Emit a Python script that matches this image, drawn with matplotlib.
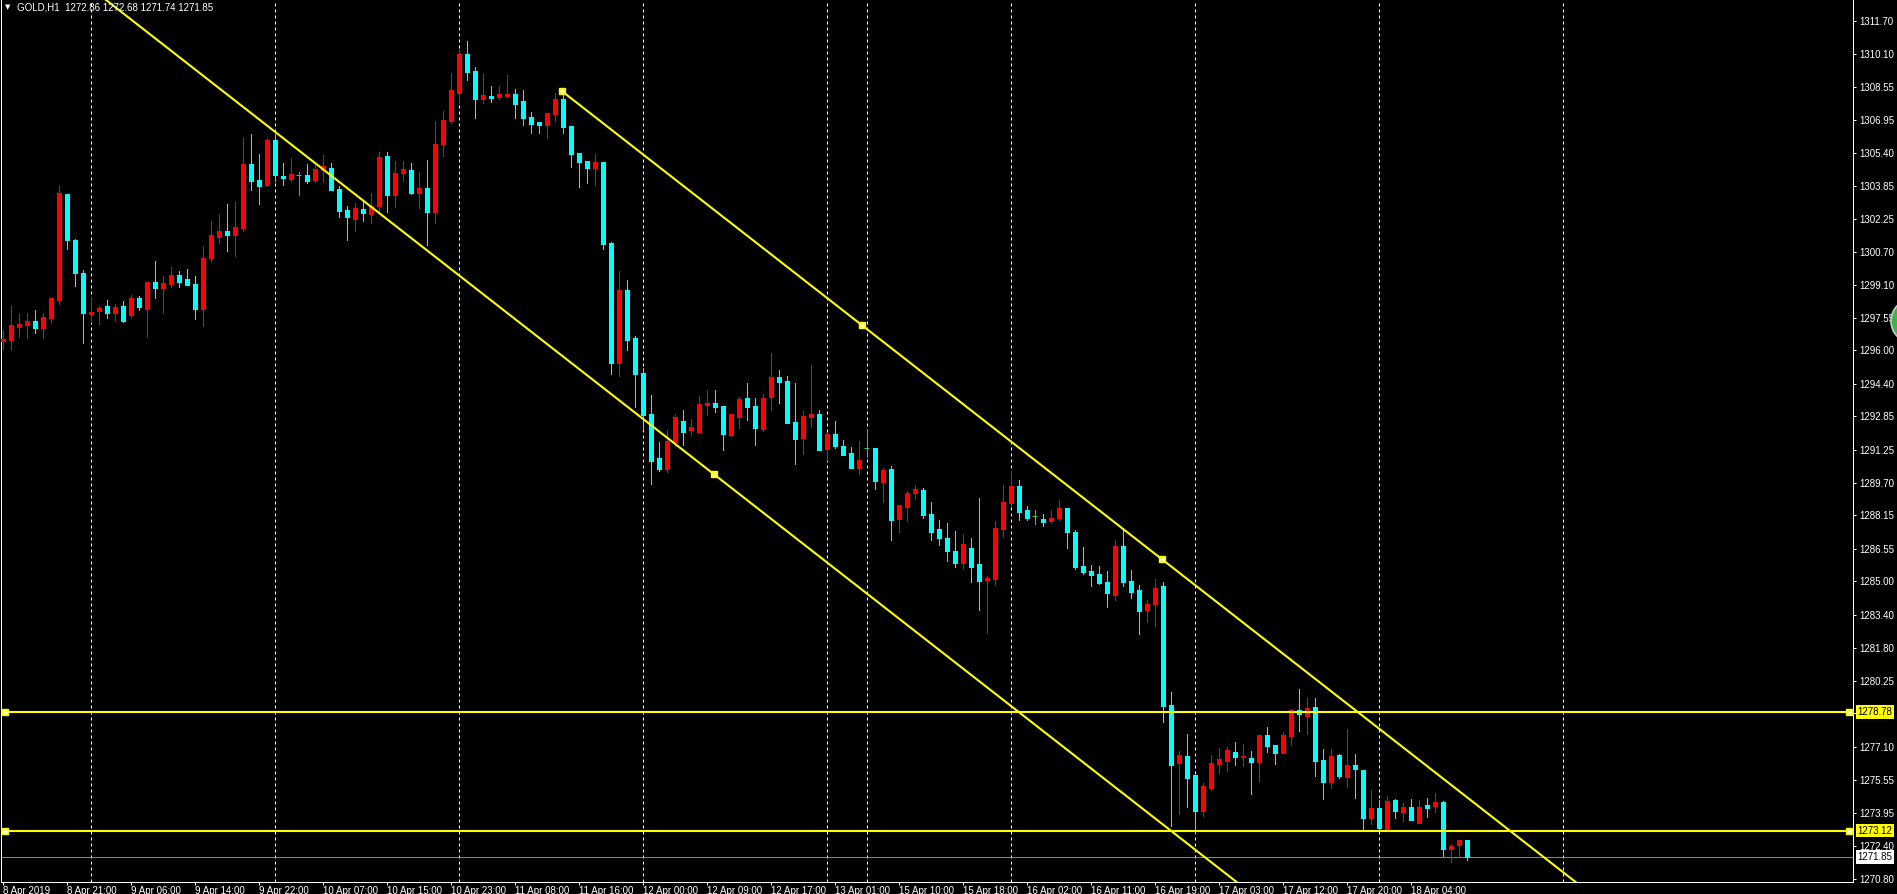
#################################################################

## Libraries

import matplotlib
matplotlib.use("Agg")
import matplotlib.pyplot as plt
from matplotlib.patches import Circle
import numpy as np


#################################################################

## Data (GOLD, H1 candles)

opens = [
    1296.46, 1296.50, 1297.12, 1297.20, 1297.39, 1297.08, 1297.55, 1298.41,
    1303.44, 1301.25, 1299.68, 1297.74, 1297.87, 1298.11, 1297.79, 1298.11,
    1297.68, 1298.49, 1297.98, 1299.25, 1298.98, 1299.17, 1299.58, 1299.39,
    1299.16, 1297.98, 1300.41, 1301.40, 1301.68, 1301.51, 1301.84, 1304.88,
    1304.11, 1303.88, 1306.02, 1304.30, 1304.16, 1304.35, 1304.35, 1304.11,
    1304.59, 1304.69, 1303.69, 1302.68, 1302.26, 1302.73, 1302.49, 1302.88,
    1305.26, 1303.40, 1304.45, 1304.59, 1303.49, 1303.73, 1302.59, 1305.83,
    1306.92, 1308.26, 1310.12, 1309.31, 1307.97, 1308.12, 1308.08, 1308.14,
    1308.20, 1307.87, 1307.11, 1306.87, 1306.73, 1307.25, 1307.97, 1306.68,
    1305.39, 1305.01, 1304.68, 1304.96, 1301.10, 1295.39, 1298.87, 1296.58,
    1294.91, 1292.96, 1290.86, 1290.34, 1291.62, 1292.62, 1292.20, 1292.10,
    1293.39, 1293.48, 1293.34, 1291.96, 1292.81, 1293.73, 1293.35, 1292.25,
    1293.77, 1294.73, 1294.54, 1292.58, 1291.82, 1292.82, 1292.96, 1291.30,
    1292.01, 1291.44, 1291.11, 1290.39, 1291.33, 1291.34, 1289.73, 1290.34,
    1287.96, 1288.53, 1289.20, 1289.34, 1288.20, 1287.49, 1287.06, 1286.44,
    1285.87, 1286.58, 1285.82, 1285.05, 1285.10, 1287.48, 1288.72, 1289.53,
    1288.39, 1288.10, 1287.96, 1287.86, 1288.01, 1288.48, 1287.34, 1285.72,
    1285.48, 1285.34, 1284.96, 1284.34, 1286.67, 1285.01, 1284.58, 1283.62,
    1283.91, 1284.77, 1279.10, 1276.33, 1276.67, 1275.76, 1274.05, 1275.14,
    1276.29, 1276.43, 1276.86, 1276.62, 1276.57, 1276.38, 1277.67, 1277.19,
    1276.81, 1277.62, 1278.86, 1278.58, 1279.00, 1276.48, 1275.43, 1276.72,
    1275.67, 1276.24, 1276.00, 1273.72, 1274.19, 1273.19, 1274.57, 1274.00,
    1274.24, 1273.48, 1274.34, 1274.29, 1274.48, 1272.24, 1272.43, 1272.68,
]

highs = [
    1296.96, 1298.11, 1297.73, 1297.77, 1297.92, 1297.77, 1298.49, 1303.83,
    1303.44, 1301.30, 1299.82, 1298.54, 1298.12, 1298.39, 1298.20, 1298.35,
    1298.62, 1298.58, 1299.25, 1300.25, 1299.54, 1299.97, 1299.77, 1299.87,
    1299.54, 1300.97, 1302.16, 1302.49, 1302.97, 1303.06, 1306.10, 1306.31,
    1305.35, 1306.11, 1306.31, 1304.92, 1305.16, 1304.50, 1304.88, 1304.83,
    1305.31, 1304.92, 1303.83, 1302.88, 1303.02, 1303.11, 1303.49, 1305.45,
    1305.45, 1305.02, 1305.02, 1304.92, 1304.50, 1305.07, 1306.92, 1307.40,
    1309.21, 1310.31, 1310.74, 1309.50, 1309.16, 1308.59, 1308.58, 1309.10,
    1308.44, 1308.39, 1307.35, 1306.87, 1307.30, 1308.25, 1308.20, 1306.68,
    1305.39, 1305.01, 1305.34, 1304.96, 1301.15, 1299.77, 1299.34, 1296.67,
    1295.15, 1293.86, 1291.62, 1292.20, 1292.96, 1293.15, 1292.72, 1293.81,
    1294.10, 1294.10, 1293.34, 1292.96, 1293.77, 1294.44, 1293.73, 1293.92,
    1295.87, 1295.06, 1294.78, 1294.44, 1293.11, 1295.30, 1293.16, 1292.06,
    1292.63, 1291.73, 1291.39, 1291.68, 1292.25, 1291.34, 1290.39, 1290.49,
    1288.63, 1289.30, 1289.58, 1289.44, 1288.77, 1287.91, 1287.77, 1287.39,
    1287.25, 1287.06, 1288.96, 1285.24, 1287.86, 1289.58, 1290.25, 1289.82,
    1288.58, 1288.39, 1288.20, 1288.39, 1288.86, 1288.48, 1287.43, 1286.62,
    1285.77, 1285.72, 1285.48, 1286.96, 1287.53, 1285.53, 1284.82, 1284.10,
    1285.10, 1284.96, 1279.72, 1276.91, 1277.72, 1275.76, 1275.38, 1276.72,
    1277.05, 1277.10, 1277.34, 1277.24, 1276.91, 1277.67, 1278.05, 1277.19,
    1277.81, 1278.91, 1279.86, 1279.43, 1279.43, 1277.00, 1277.00, 1276.76,
    1277.96, 1276.76, 1276.00, 1275.05, 1274.57, 1274.76, 1274.62, 1274.43,
    1274.62, 1274.57, 1274.67, 1274.91, 1274.53, 1272.48, 1272.67, 1272.68,
]

lows = [
    1296.06, 1296.03, 1296.63, 1296.60, 1296.84, 1296.60, 1297.30, 1298.22,
    1300.82, 1299.08, 1296.36, 1297.36, 1297.27, 1297.55, 1297.39, 1297.35,
    1297.55, 1297.92, 1296.63, 1298.50, 1297.77, 1299.01, 1299.03, 1299.12,
    1297.50, 1297.17, 1300.25, 1301.11, 1300.74, 1300.51, 1301.70, 1303.64,
    1302.97, 1303.83, 1304.07, 1303.88, 1304.07, 1303.40, 1303.97, 1304.02,
    1304.02, 1303.64, 1302.35, 1301.26, 1301.68, 1302.16, 1302.07, 1302.59,
    1302.59, 1302.83, 1304.07, 1303.45, 1302.78, 1301.02, 1302.07, 1305.26,
    1306.83, 1307.78, 1308.88, 1307.07, 1307.78, 1307.83, 1307.98, 1308.08,
    1307.06, 1306.73, 1306.35, 1306.35, 1306.11, 1306.92, 1306.35, 1304.73,
    1303.77, 1303.96, 1303.87, 1300.82, 1294.86, 1294.77, 1296.01, 1293.29,
    1292.29, 1289.62, 1290.24, 1290.19, 1291.43, 1291.48, 1291.96, 1292.05,
    1292.91, 1293.05, 1291.24, 1291.91, 1292.29, 1292.68, 1291.49, 1292.15,
    1293.16, 1293.49, 1292.54, 1290.58, 1291.06, 1292.35, 1291.25, 1290.77,
    1291.35, 1291.01, 1290.39, 1290.11, 1290.92, 1289.39, 1288.77, 1286.96,
    1287.34, 1287.87, 1288.92, 1288.01, 1286.96, 1286.72, 1285.96, 1285.68,
    1285.58, 1284.96, 1283.63, 1282.53, 1284.82, 1287.10, 1288.58, 1287.91,
    1287.91, 1287.72, 1287.63, 1287.77, 1287.91, 1286.58, 1285.58, 1285.34,
    1284.77, 1284.86, 1283.77, 1284.10, 1284.77, 1284.20, 1282.48, 1283.05,
    1282.86, 1278.29, 1273.33, 1273.90, 1274.24, 1273.00, 1273.81, 1275.05,
    1275.86, 1275.95, 1276.24, 1276.19, 1274.86, 1275.48, 1276.86, 1276.29,
    1276.81, 1277.19, 1277.86, 1277.72, 1275.72, 1274.62, 1275.15, 1275.62,
    1275.19, 1274.67, 1273.19, 1273.43, 1273.19, 1273.19, 1273.72, 1273.57,
    1273.62, 1273.48, 1273.76, 1274.00, 1271.91, 1271.62, 1271.91, 1271.74,
]

closes = [
    1296.54, 1297.20, 1297.27, 1297.39, 1297.08, 1297.58, 1298.49, 1303.49,
    1301.27, 1299.70, 1297.79, 1297.82, 1298.01, 1297.79, 1298.06, 1297.41,
    1298.49, 1298.08, 1299.25, 1298.98, 1299.20, 1299.58, 1299.27, 1299.12,
    1297.98, 1300.39, 1301.49, 1301.68, 1301.51, 1301.87, 1304.87, 1304.07,
    1303.83, 1306.02, 1304.35, 1304.22, 1304.40, 1304.35, 1304.07, 1304.64,
    1304.78, 1303.64, 1302.64, 1302.35, 1302.78, 1302.54, 1302.88, 1305.21,
    1303.40, 1304.45, 1304.64, 1303.49, 1303.73, 1302.59, 1305.83, 1306.97,
    1308.40, 1310.12, 1309.26, 1307.97, 1308.16, 1308.02, 1308.20, 1308.20,
    1307.73, 1307.06, 1306.77, 1306.73, 1307.30, 1307.97, 1306.63, 1305.34,
    1304.96, 1304.68, 1304.96, 1301.06, 1295.39, 1298.87, 1296.48, 1294.86,
    1292.91, 1290.72, 1290.34, 1291.67, 1292.81, 1292.10, 1292.34, 1293.43,
    1293.48, 1293.29, 1292.00, 1292.96, 1293.67, 1293.30, 1292.30, 1293.73,
    1294.73, 1294.49, 1292.54, 1291.77, 1292.87, 1292.96, 1291.25, 1292.01,
    1291.44, 1291.01, 1290.39, 1290.77, 1291.33, 1289.77, 1290.30, 1287.91,
    1288.63, 1289.20, 1289.39, 1288.15, 1287.34, 1287.06, 1286.44, 1285.87,
    1286.77, 1285.68, 1285.01, 1285.15, 1287.53, 1288.77, 1289.53, 1288.29,
    1288.01, 1288.10, 1287.82, 1288.01, 1288.48, 1287.34, 1285.67, 1285.43,
    1285.29, 1284.91, 1284.43, 1286.67, 1284.96, 1284.48, 1283.58, 1283.91,
    1284.67, 1279.05, 1276.24, 1276.72, 1275.62, 1274.05, 1275.24, 1276.33,
    1276.53, 1276.95, 1276.62, 1276.67, 1276.38, 1277.67, 1277.15, 1276.81,
    1277.67, 1278.86, 1278.67, 1278.96, 1276.43, 1275.43, 1276.67, 1275.72,
    1276.24, 1276.05, 1273.72, 1274.19, 1273.24, 1274.53, 1274.05, 1274.24,
    1273.62, 1274.24, 1274.19, 1274.48, 1272.24, 1272.38, 1272.67, 1271.85,
]

# time labels, one every 8 bars
time_labels = [
    "8 Apr 2019", "8 Apr 21:00", "9 Apr 06:00", "9 Apr 14:00", "9 Apr 22:00",
    "10 Apr 07:00", "10 Apr 15:00", "10 Apr 23:00", "11 Apr 08:00", "11 Apr 16:00",
    "12 Apr 00:00", "12 Apr 09:00", "12 Apr 17:00", "13 Apr 01:00", "15 Apr 10:00",
    "15 Apr 18:00", "16 Apr 02:00", "16 Apr 11:00", "16 Apr 19:00", "17 Apr 03:00",
    "17 Apr 12:00", "17 Apr 20:00", "18 Apr 04:00",
]
label_step = 8

# bars where a new day starts (period separators)
day_starts = [11, 34, 57, 80, 103, 108, 126, 149, 172, 195]

price_ticks = [
    1311.70, 1310.10, 1308.55, 1306.95, 1305.40, 1303.85, 1302.25, 1300.70,
    1299.10, 1297.55, 1296.00, 1294.40, 1292.85, 1291.25, 1289.70, 1288.15,
    1286.55, 1285.00, 1283.40, 1281.80, 1280.25, 1278.70, 1277.10, 1275.55,
    1273.95, 1272.40, 1270.80,
]

# horizontal levels and the bid line
levels = [1278.78, 1273.12]
bid_price = 1271.85

# upper channel line (two anchor points) and one point of the lower line
upper_x = [69.9, 144.9]
upper_y = [1308.35, 1286.05]
lower_x = 88.9
lower_y = 1290.10

header = "GOLD,H1  1272.86 1272.68 1271.74 1271.85"


#################################################################

## Plot

plt.rcParams['font.family'] = ['Liberation Sans', 'DejaVu Sans']

O = np.array(opens)
H = np.array(highs)
L = np.array(lows)
C = np.array(closes)
x = np.arange(len(O))

RED = '#ff0000'
CYAN = '#00ffff'
GREEN = '#32cd32'
YELLOW = '#ffff00'
px = 0.72  # one pixel in points

fig = plt.figure(figsize=(18.97, 8.94), dpi=100, facecolor='black')
ax = fig.add_axes([1 / 1897, 12 / 894, 1852 / 1897, 882 / 894])
ax.set_facecolor('black')
ax.set_xlim(-0.21, 231.3)
ax.set_ylim(1270.67, 1312.69)

# period separators
for d in day_starts:
    ax.axvline(d, color='white', lw=px, ls=(0, (3, 3)), zorder=1)

# candles
up = C > O
down = C < O
doji = C == O
wick_colors = np.where(up, RED, np.where(down, CYAN, GREEN))
ax.vlines(x, L, H, colors=wick_colors, lw=px, zorder=3, antialiased=False)
ax.bar(x[up], (C - O)[up], bottom=O[up], width=0.5, color=RED,
       edgecolor=RED, linewidth=px, zorder=4, antialiased=False)
ax.bar(x[down], (C - O)[down], bottom=O[down], width=0.5, color=CYAN,
       edgecolor=CYAN, linewidth=px, zorder=4, antialiased=False)
ax.hlines(C[doji], x[doji] - 0.31, x[doji] + 0.31, colors=GREEN, lw=px, zorder=4)

# channel lines
slope = (upper_y[1] - upper_y[0]) / (upper_x[1] - upper_x[0])
ux = np.array([upper_x[0], 260])
ax.plot(ux, upper_y[0] + slope * (ux - upper_x[0]), color=YELLOW, lw=1.5, zorder=5)
lx = np.array([-20, 260])
ax.plot(lx, lower_y + slope * (lx - lower_x), color=YELLOW, lw=1.5, zorder=5)
mid_x = (upper_x[0] + upper_x[1]) / 2
mark_x = [upper_x[0], mid_x, upper_x[1], lower_x]
mark_y = [upper_y[0], upper_y[0] + slope * (mid_x - upper_x[0]), upper_y[1], lower_y]
ax.plot(mark_x, mark_y, ls='none', marker='s', ms=5, mfc=YELLOW, mec=YELLOW, zorder=6)
ax.plot(mark_x, mark_y, ls='none', marker='s', ms=1.5, mfc='white', mec='white', zorder=7)

# horizontal levels
for lvl in levels:
    ax.axhline(lvl, color=YELLOW, lw=1.5, zorder=5)
    ax.plot([0.002, 0.998], [lvl, lvl], transform=ax.get_yaxis_transform(), ls='none',
            marker='s', ms=4.5, mfc=YELLOW, mec=YELLOW, zorder=6, clip_on=False)
    ax.plot([0.002, 0.998], [lvl, lvl], transform=ax.get_yaxis_transform(), ls='none',
            marker='s', ms=1.5, mfc='white', mec='white', zorder=7, clip_on=False)
ax.axhline(bid_price, color='#778899', lw=px, zorder=2)

# price boxes on the scale
for price, fc in [(levels[0], YELLOW), (levels[1], YELLOW), (bid_price, 'white')]:
    ax.text(1.0025, price, '%.2f' % price, transform=ax.get_yaxis_transform(),
            ha='left', va='center', fontsize=7, color='black', zorder=10, clip_on=False,
            bbox=dict(boxstyle='square,pad=0.18', fc=fc, ec='none'))

# axes frame
for side in ['left', 'right', 'bottom']:
    ax.spines[side].set_color('white')
    ax.spines[side].set_linewidth(px)
ax.spines['top'].set_visible(False)

ax.yaxis.tick_right()
ax.set_yticks(price_ticks)
ax.set_yticklabels(['%.2f' % p for p in price_ticks])
ax.tick_params(axis='y', direction='out', length=2.5, width=px, colors='white',
               labelsize=7, pad=2)

ax.set_xticks(np.arange(len(time_labels)) * label_step)
ax.set_xticklabels(time_labels)
ax.tick_params(axis='x', direction='out', length=2.5, width=px, colors='white',
               labelsize=7, pad=0.5)
plt.setp(ax.get_xticklabels(), ha='left')

# header
fig.text(5 / 1897, 1 - 7 / 894, '\u25bc', fontsize=5, color='white', va='center',
         ha='left', family='DejaVu Sans')
fig.text(17 / 1897, 1 - 7 / 894, header, fontsize=7, color='white', va='center', ha='left')

# one-click trading button, cut by the right edge
fig.add_artist(Circle((19.13, 5.73), 0.22, transform=fig.dpi_scale_trans,
                      fc='#3cb44b', ec='#c8c8c8', lw=1.2, zorder=20))

fig.savefig('out.png', dpi=100, facecolor='black')
